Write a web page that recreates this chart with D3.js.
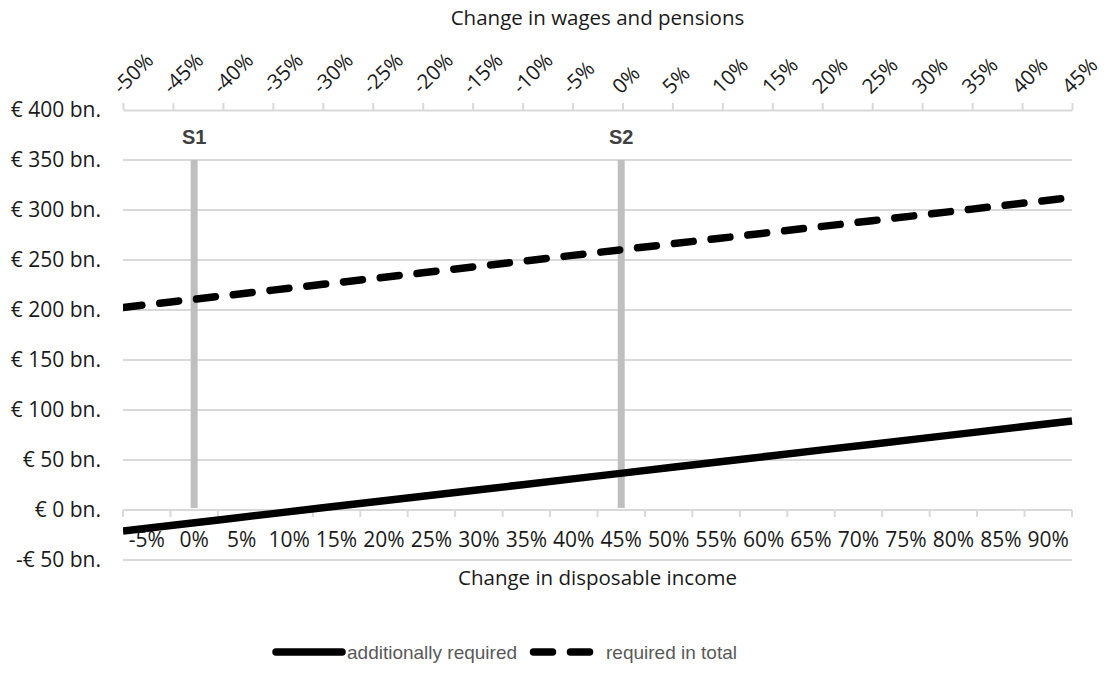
<!DOCTYPE html>
<html>
<head>
<meta charset="utf-8">
<script src="https://cdn.jsdelivr.net/npm/d3@7"></script>
<style>
  html, body { margin: 0; padding: 0; background: #fff; }
  svg { display: block; }
</style>
</head>
<body>
<div id="chart"></div>
<script>
// ---- data ----
const wageCategories = ["-50%","-45%","-40%","-35%","-30%","-25%","-20%","-15%","-10%","-5%","0%","5%","10%","15%","20%","25%","30%","35%","40%","45%"];
const incomeCategories = ["-5%","0%","5%","10%","15%","20%","25%","30%","35%","40%","45%","50%","55%","60%","65%","70%","75%","80%","85%","90%"];
const additionallyRequired = [-21,-15.2,-9.4,-3.6,2.2,8,13.7,19.5,25.3,31.1,36.9,42.7,48.5,54.3,60.1,65.8,71.6,77.4,83.2,89];
const requiredInTotal = [202.5,208.3,214.1,219.9,225.7,231.4,237.2,243,248.8,254.6,260.4,266.2,272,277.8,283.6,289.3,295.1,300.9,306.7,312.5];
const yTickValues = [-50,0,50,100,150,200,250,300,350,400];
const scenarioLabels = ["S1","S2"];
const scenarioIncome = ["0%","45%"];
const scenarioHeight = 350;
const seriesNames = ["additionally required","required in total"];
const topAxisTitle = "Change in wages and pensions";
const bottomAxisTitle = "Change in disposable income";

// ---- layout ----
const W = 1112, H = 690;
const L = 123, R = 1072, T = 110, B = 560;
const gridColor = "#d9d9d9";
const axisFont = "'Open Sans', sans-serif";
const axisSize = 21;
const titleSize = 20.5;
const labelFont = "'Liberation Sans', Arial, sans-serif";
const lineW = 7.5;

const svg = d3.select("#chart").append("svg").attr("width", W).attr("height", H);

const y = d3.scaleLinear().domain([-50, 400]).range([B, T]);
const xTop = d3.scalePoint().domain(wageCategories).range([L, R]).padding(0);
const xBottom = d3.scaleBand().domain(incomeCategories).range([L, R]).padding(0);

// gridlines
svg.append("g").selectAll("line").data(yTickValues.filter(v => v !== 0 && v !== 400)).join("line")
  .attr("x1", L).attr("x2", R)
  .attr("y1", d => y(d)).attr("y2", d => y(d))
  .attr("stroke", gridColor).attr("stroke-width", 2);

// y labels
svg.append("g").selectAll("text").data(yTickValues).join("text")
  .attr("x", 101).attr("y", d => y(d))
  .attr("dy", "0.35em")
  .attr("text-anchor", "end")
  .attr("font-family", axisFont).attr("font-size", axisSize).attr("fill", "#1a1a1a")
  .text(d => (d < 0 ? "-€ " + Math.abs(d) : "€ " + d) + " bn.");

// top axis
const topAxis = d3.axisTop(xTop).tickSize(7).tickSizeOuter(0).tickPadding(0);
const gTop = svg.append("g").attr("transform", `translate(0,${y(400)})`).call(topAxis);
gTop.select(".domain").attr("stroke", gridColor).attr("stroke-width", 2);
gTop.selectAll(".tick line").attr("stroke", gridColor).attr("stroke-width", 2);
gTop.selectAll(".tick text")
  .attr("font-family", axisFont).attr("font-size", titleSize).attr("fill", "#1a1a1a")
  .attr("text-anchor", "start")
  .attr("transform", "translate(-2,-15) rotate(-45)")
  .attr("x", 0).attr("y", 0).attr("dy", 0);

// top axis title
svg.append("text").attr("x", (L + R) / 2).attr("y", 25)
  .attr("text-anchor", "middle")
  .attr("font-family", axisFont).attr("font-size", titleSize).attr("fill", "#1a1a1a")
  .text(topAxisTitle);

// bottom axis at y=0 with ticks between categories
const y0 = y(0);
const gBot = svg.append("g");
gBot.append("line").attr("x1", L).attr("x2", R).attr("y1", y0).attr("y2", y0)
  .attr("stroke", gridColor).attr("stroke-width", 2);
const boundaries = incomeCategories.map(c => xBottom(c)).concat([xBottom.range()[1]]);
gBot.selectAll("line.tk").data(boundaries).join("line").attr("class", "tk")
  .attr("x1", d => d).attr("x2", d => d)
  .attr("y1", y0).attr("y2", y0 + 7)
  .attr("stroke", gridColor).attr("stroke-width", 2);
gBot.selectAll("text").data(incomeCategories).join("text")
  .attr("x", d => xBottom(d) + xBottom.bandwidth() / 2)
  .attr("y", 547)
  .attr("text-anchor", "middle")
  .attr("font-family", axisFont).attr("font-size", axisSize).attr("fill", "#1a1a1a")
  .text(d => d);

svg.append("text").attr("x", (L + R) / 2).attr("y", 585)
  .attr("text-anchor", "middle")
  .attr("font-family", axisFont).attr("font-size", titleSize).attr("fill", "#1a1a1a")
  .text(bottomAxisTitle);

// bottom gridline at -50
svg.append("line").attr("x1", L).attr("x2", R).attr("y1", y(-50)).attr("y2", y(-50))
  .attr("stroke", gridColor).attr("stroke-width", 2);

// scenario bars
const sc = scenarioLabels.map((s, i) => ({ label: s, cat: scenarioIncome[i] }));
svg.append("g").selectAll("line").data(sc).join("line")
  .attr("x1", d => xBottom(d.cat) + xBottom.bandwidth() / 2)
  .attr("x2", d => xBottom(d.cat) + xBottom.bandwidth() / 2)
  .attr("y1", y(0) - 2).attr("y2", y(scenarioHeight))
  .attr("stroke", "#bfbfbf").attr("stroke-width", 7);
svg.append("g").selectAll("text").data(sc).join("text")
  .attr("x", d => xBottom(d.cat) + xBottom.bandwidth() / 2)
  .attr("y", 144)
  .attr("text-anchor", "middle")
  .attr("font-family", labelFont).attr("font-weight", "bold").attr("font-size", 20)
  .attr("fill", "#404040")
  .text(d => d.label);

// clip
svg.append("clipPath").attr("id", "plotclip").append("rect")
  .attr("x", L).attr("y", 0).attr("width", R - L + 4).attr("height", H);

const line = d3.line().x((d, i) => xTop(wageCategories[i])).y(d => y(d));

svg.append("path").datum(additionallyRequired)
  .attr("d", line).attr("fill", "none")
  .attr("stroke", "#000").attr("stroke-width", lineW).attr("stroke-linecap", "butt")
  .attr("clip-path", "url(#plotclip)");

svg.append("path").datum(requiredInTotal)
  .attr("d", line).attr("fill", "none")
  .attr("stroke", "#000").attr("stroke-width", lineW)
  .attr("stroke-linecap", "round").attr("stroke-dasharray", "19,18")
  .attr("clip-path", "url(#plotclip)");

// legend
const lg = svg.append("g");
lg.append("line").attr("x1", 276).attr("x2", 342).attr("y1", 652).attr("y2", 652)
  .attr("stroke", "#000").attr("stroke-width", lineW).attr("stroke-linecap", "round");
lg.append("text").attr("x", 347).attr("y", 652).attr("dy", "0.35em")
  .attr("font-family", labelFont).attr("font-size", 19).attr("fill", "#595959")
  .text(seriesNames[0]);
lg.append("line").attr("x1", 533.5).attr("x2", 600).attr("y1", 652).attr("y2", 652)
  .attr("stroke", "#000").attr("stroke-width", lineW).attr("stroke-linecap", "round")
  .attr("stroke-dasharray", "19,18");
lg.append("text").attr("x", 606).attr("y", 652).attr("dy", "0.35em")
  .attr("font-family", labelFont).attr("font-size", 19).attr("fill", "#595959")
  .text(seriesNames[1]);
</script>
</body>
</html>
